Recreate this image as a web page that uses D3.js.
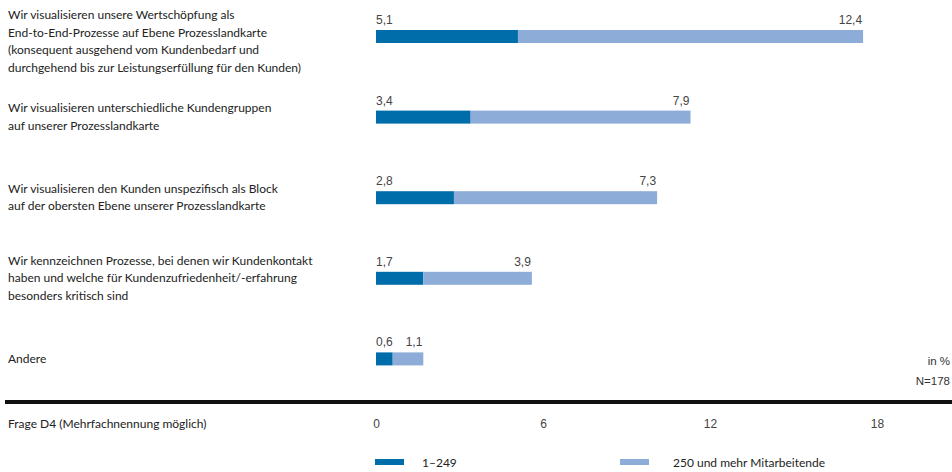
<!DOCTYPE html>
<html><head><meta charset="utf-8">
<script src="https://cdn.jsdelivr.net/npm/d3@7"></script>
<style>body{margin:0;background:#fff}</style>
</head><body>
<svg id="c" width="952" height="472"></svg>
<script>
const categories = [
  ["Wir visualisieren unsere Wertschöpfung als","End-to-End-Prozesse auf Ebene Prozesslandkarte","(konsequent ausgehend vom Kundenbedarf und","durchgehend bis zur Leistungserfüllung für den Kunden)"],
  ["Wir visualisieren unterschiedliche Kundengruppen","auf unserer Prozesslandkarte"],
  ["Wir visualisieren den Kunden unspezifisch als Block","auf der obersten Ebene unserer Prozesslandkarte"],
  ["Wir kennzeichnen Prozesse, bei denen wir Kundenkontakt","haben und welche für Kundenzufriedenheit/-erfahrung","besonders kritisch sind"],
  ["Andere"]
];
const small = [5.1, 3.4, 2.8, 1.7, 0.6];     // 1–249
const large = [12.4, 7.9, 7.3, 3.9, 1.1];    // 250 und mehr Mitarbeitende
const seriesNames = ["1–249", "250 und mehr Mitarbeitende"];
const tickValues = [0, 6, 12, 18];

const colors = ["#006DAB", "#8DADD8"];
const labelFont = "Lato, 'Open Sans', sans-serif";
const numFont = "'Liberation Sans', Arial, sans-serif";

const svg = d3.select("#c");
const x = d3.scaleLinear().domain([0, 18]).range([376, 877]);
const step = 80.6, barH = 13, top0 = 30;
const by = i => top0 + i * step;

const rows = categories.map((c, i) => ({c, i, a: small[i], b: large[i]}));

// bars
const g = svg.append("g");
g.selectAll("rect.a").data(rows).join("rect")
  .attr("x", d => x(0)).attr("y", d => by(d.i))
  .attr("width", d => x(d.a) - x(0)).attr("height", barH).attr("fill", colors[0]);
g.selectAll("rect.b").data(rows).join("rect")
  .attr("x", d => x(d.a)).attr("y", d => by(d.i))
  .attr("width", d => x(d.a + d.b) - x(d.a)).attr("height", barH).attr("fill", colors[1]);

// value labels
const fmt = v => d3.format(".1f")(v).replace(".", ",");
g.selectAll("text.va").data(rows).join("text")
  .attr("x", d => x(0)).attr("y", d => by(d.i) - 6)
  .attr("font-family", numFont).attr("font-size", 12).attr("fill", "#444")
  .text(d => fmt(d.a));
g.selectAll("text.vb").data(rows).join("text")
  .attr("x", d => x(d.a + d.b) - 1).attr("y", d => by(d.i) - 6)
  .attr("text-anchor", "end")
  .attr("font-family", numFont).attr("font-size", 12).attr("fill", "#444")
  .text(d => fmt(d.b));

// category labels
const lh = 17.5;
rows.forEach(d => {
  const center = by(d.i) + barH / 2;
  let first = center - (d.c.length - 1) * lh / 2 + 4;
  first = Math.max(first, 19);
  const t = svg.append("text").attr("font-family", labelFont).attr("font-size", 12).attr("fill", "#222");
  d.c.forEach((line, k) => t.append("tspan").attr("x", 8).attr("y", first + k * lh).text(line));
});

// in % / N
svg.append("text").attr("x", 950).attr("y", 365).attr("text-anchor", "end")
  .attr("font-family", numFont).attr("font-size", 11.5).attr("fill", "#333").text("in %");
svg.append("text").attr("x", 950).attr("y", 385).attr("text-anchor", "end")
  .attr("font-family", numFont).attr("font-size", 11.5).attr("fill", "#333").text("N=178");

// thick baseline
svg.append("rect").attr("x", 5).attr("y", 400).attr("width", 947).attr("height", 4).attr("fill", "#111");

// axis
const ax = svg.append("g").attr("transform", "translate(0,415)")
  .call(d3.axisBottom(x).tickValues(tickValues).tickSize(0).tickPadding(4).tickFormat(d3.format("d")));
ax.select(".domain").remove();
ax.selectAll("text").attr("font-family", numFont).attr("font-size", 12).attr("fill", "#444");

svg.append("text").attr("x", 8).attr("y", 428).attr("font-family", labelFont).attr("font-size", 12).attr("fill", "#222")
  .text("Frage D4 (Mehrfachnennung möglich)");

// legend
const legX = [375, 620];
seriesNames.forEach((n, i) => {
  svg.append("rect").attr("x", legX[i]).attr("y", 459).attr("width", 29).attr("height", 6).attr("fill", colors[i]);
  svg.append("text").attr("x", legX[i] + (i === 0 ? 47 : 53)).attr("y", 467)
    .attr("font-family", labelFont).attr("font-size", 12).attr("fill", "#222").text(n);
});
</script>
</body></html>
